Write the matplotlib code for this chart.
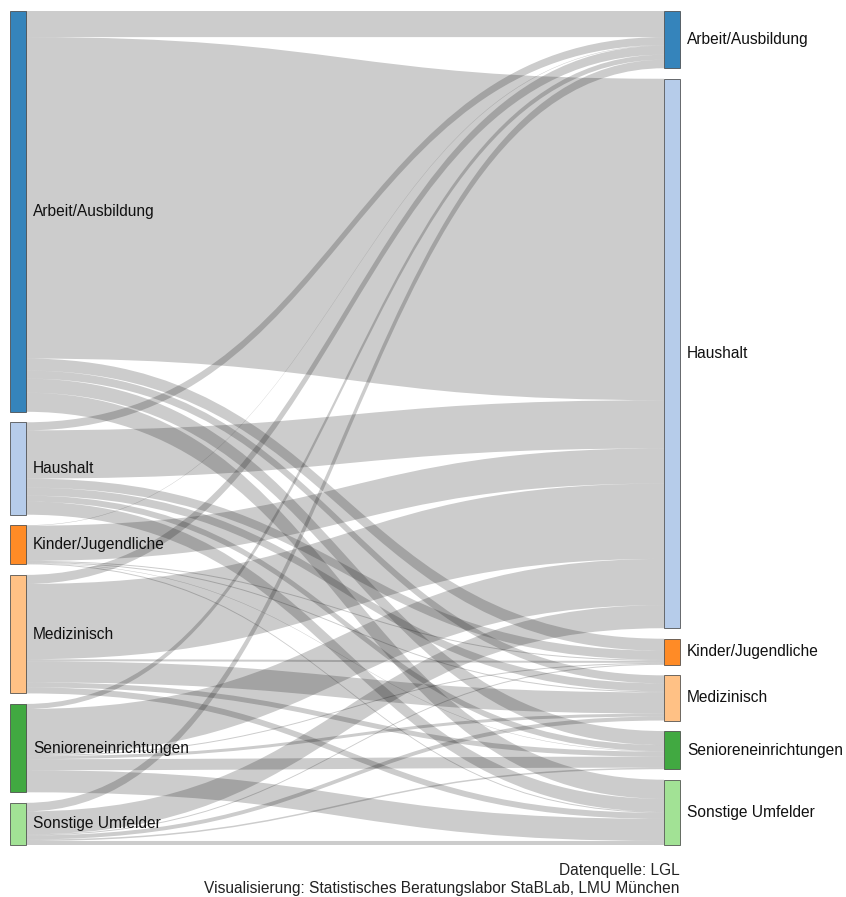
import matplotlib.pyplot as plt
from matplotlib.path import Path
from matplotlib.patches import PathPatch, Rectangle

plt.rcParams['font.family'] = ['Liberation Sans', 'DejaVu Sans']

categories = ["Arbeit/Ausbildung", "Haushalt", "Kinder/Jugendliche",
              "Medizinisch", "Senioreneinrichtungen", "Sonstige Umfelder"]
node_colors = ["#1f77b4", "#aec7e8", "#ff7f0e", "#ffbb78", "#2ca02c", "#98df8a"]

# flows: one list per source (left), entries ordered like categories (target, right)
flow_arbeit = [26, 320, 12, 8, 14, 19]
flow_haushalt = [8, 48, 9, 8, 6, 13]
flow_kinder = [0.5, 35, 1, 1, 0.5, 1]
flow_medizinisch = [9, 75, 2, 21, 5, 6]
flow_senioren = [5, 46, 1, 3, 11, 22]
flow_sonstige = [8.5, 23, 1, 4, 1.5, 4]

flows = [flow_arbeit, flow_haushalt, flow_kinder, flow_medizinisch, flow_senioren, flow_sonstige]
n = len(categories)

W, H = 846, 897
fig = plt.figure(figsize=(W / 100, H / 100), dpi=100)
ax = fig.add_axes([0, 0, 1, 1])
ax.set_xlim(0, W)
ax.set_ylim(H, 0)
ax.axis('off')

top, bottom = 11, 845
pad = 10.5
node_w = 16
left_x, right_x = 10, 664

out_tot = [sum(f) for f in flows]
in_tot = [sum(flows[s][t] for s in range(n)) for t in range(n)]
ky = (bottom - top - pad * (n - 1)) / max(sum(out_tot), sum(in_tot))

def stack(totals):
    ys = []
    y = top
    for v in totals:
        ys.append(y)
        y += v * ky + pad
    return ys

left_y = stack(out_tot)
right_y = stack(in_tot)

# link offsets: outgoing sorted by target, incoming sorted by source
src_off = [left_y[s] for s in range(n)]
tgt_off = [right_y[t] for t in range(n)]
src_pos = {}
for s in range(n):
    for t in range(n):
        src_pos[(s, t)] = src_off[s]
        src_off[s] += flows[s][t] * ky
tgt_pos = {}
for t in range(n):
    for s in range(n):
        tgt_pos[(s, t)] = tgt_off[t]
        tgt_off[t] += flows[s][t] * ky

x0 = left_x + node_w
x1 = right_x
xm = (x0 + x1) / 2
for s in range(n):
    for t in range(n):
        w = flows[s][t] * ky
        if w <= 0:
            continue
        a = src_pos[(s, t)]
        b = tgt_pos[(s, t)]
        verts = [(x0, a), (xm, a), (xm, b), (x1, b),
                 (x1, b + w), (xm, b + w), (xm, a + w), (x0, a + w), (x0, a)]
        codes = [Path.MOVETO, Path.CURVE4, Path.CURVE4, Path.CURVE4,
                 Path.LINETO, Path.CURVE4, Path.CURVE4, Path.CURVE4, Path.CLOSEPOLY]
        ax.add_patch(PathPatch(Path(verts, codes), facecolor=(0, 0, 0, 0.2),
                               edgecolor='none', lw=0, zorder=1))

for i in range(n):
    ax.add_patch(Rectangle((left_x, left_y[i]), node_w, out_tot[i] * ky,
                           facecolor=node_colors[i], alpha=0.9,
                           edgecolor='#444444', lw=0.6, zorder=2))
    ax.add_patch(Rectangle((right_x, right_y[i]), node_w, in_tot[i] * ky,
                           facecolor=node_colors[i], alpha=0.9,
                           edgecolor='#444444', lw=0.6, zorder=2))
    ax.text(left_x + node_w + 7, left_y[i] + out_tot[i] * ky / 2, categories[i],
            ha='left', va='center', fontsize=11.2, color='#111111', zorder=3)
    ax.text(right_x + node_w + 7, right_y[i] + in_tot[i] * ky / 2, categories[i],
            ha='left', va='center', fontsize=11.2, color='#111111', zorder=3)

ax.text(right_x + node_w, 871, "Datenquelle: LGL", ha='right', va='center',
        fontsize=11.2, color='#222222')
ax.text(right_x + node_w, 888, "Visualisierung: Statistisches Beratungslabor StaBLab, LMU München",
        ha='right', va='center', fontsize=11.2, color='#222222')

fig.savefig('out.png', dpi=100)
